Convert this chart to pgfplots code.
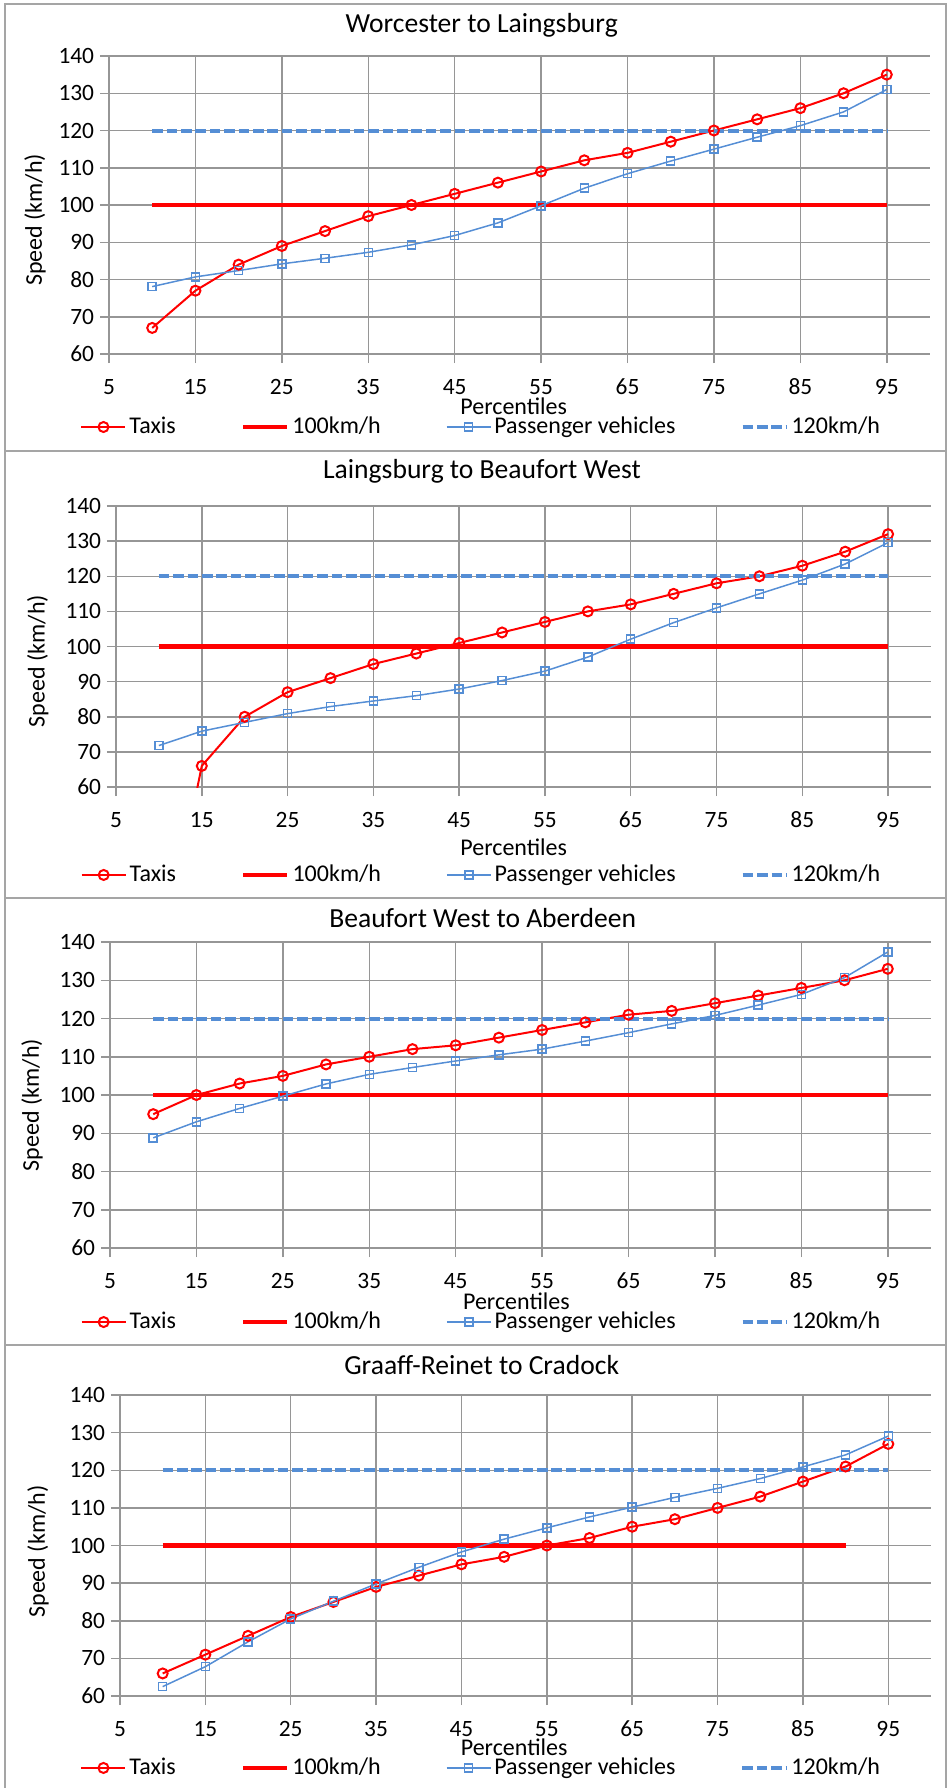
\documentclass[border=0pt]{standalone}
\usepackage{fontspec}
\setmainfont{Carlito}
\usepackage{pgfplots}
\usepackage{pgfplotstable}
\pgfplotsset{compat=1.18}

\definecolor{taxired}{RGB}{255,0,0}
\definecolor{pvblue}{RGB}{85,142,213}
\definecolor{gridgray}{RGB}{150,150,150}
\definecolor{framegray}{RGB}{165,165,165}

% percentile, taxis, passenger vehicles (km/h)
\pgfplotstableread{
p  taxi pv
10 67  78.1
15 77  80.7
20 84  82.4
25 89  84.2
30 93  85.7
35 97  87.3
40 100 89.3
45 103 91.8
50 106 95.2
55 109 99.8
60 112 104.5
65 114 108.4
70 117 111.8
75 120 115.0
80 123 118.2
85 126 121.3
90 130 125.0
95 135 131.0
}\worcester

\pgfplotstableread{
p  taxi pv
10 6   71.8
15 66  75.9
20 80  78.4
25 87  80.9
30 91  82.9
35 95  84.5
40 98  86.0
45 101 87.9
50 104 90.3
55 107 93.0
60 110 97.0
65 112 102.1
70 115 106.8
75 118 111.0
80 120 115.0
85 123 118.9
90 127 123.5
95 132 129.6
}\laingsburg

\pgfplotstableread{
p  taxi pv
10 95  88.8
15 100 93.0
20 103 96.5
25 105 99.7
30 108 102.9
35 110 105.4
40 112 107.2
45 113 108.9
50 115 110.5
55 117 112.0
60 119 114.1
65 121 116.3
70 122 118.6
75 124 120.8
80 126 123.5
85 128 126.3
90 130 130.7
95 133 137.4
}\beaufort

\pgfplotstableread{
p  taxi pv
10 66  62.5
15 71  67.8
20 76  74.4
25 81  80.5
30 85  85.2
35 89  89.8
40 92  94.2
45 95  98.3
50 97  101.7
55 100 104.7
60 102 107.6
65 105 110.2
70 107 112.8
75 110 115.2
80 113 117.8
85 117 120.9
90 121 124.1
95 127 129.1
}\graaff

\pgfplotsset{
  speedpanel/.style={
    scale only axis,
    xmin=5, xmax=100, ymin=60, ymax=140,
    xtick={5,15,...,95}, ytick={60,70,...,140},
    axis x line*=bottom, axis y line*=left,
    axis line style={draw=gridgray, line width=0.75pt},
    grid=major, grid style={draw=gridgray, line width=0.75pt},
    tick align=outside, major tick length=4.5pt,
    tick style={draw=gridgray, line width=0.75pt},
    /pgf/number format/assume math mode=true,
    ticklabel style={font=\fontsize{11.7}{14}\selectfont},
    xticklabel style={anchor=center, inner sep=0pt, yshift=-12pt},
    yticklabel style={anchor=east, inner sep=0pt, xshift=-2.75pt},
    xlabel={Percentiles}, ylabel={Speed (km/h)},
    label style={font=\fontsize{12}{14}\selectfont},
    xlabel style={inner sep=0pt},
    title style={font=\fontsize{13.8}{16}\selectfont},
    legend columns=4,
    legend style={draw=none, fill=none, anchor=center,
      font=\fontsize{12}{14}\selectfont,
      nodes={inner sep=1.5pt},
      /tikz/every even column/.append style={column sep=31pt}},
    legend image code/.code={%
      \draw[mark repeat=2,mark phase=2,##1]
        plot coordinates {(0pt,0pt) (11pt,0pt) (22pt,0pt)};},
  },
  taxis/.style={color=taxired, line width=1pt, mark=o, mark size=2.5pt},
  pv/.style={color=pvblue, line width=0.75pt, mark=square, mark size=2pt},
  lim100/.style={color=taxired, line width=2.25pt, no markers},
  lim120/.style={color=pvblue, line width=2pt, no markers, dash pattern=on 5.3pt off 1.9pt},
}

\begin{document}
\begin{tikzpicture}[x=0.5pt, y=-0.5pt]
\useasboundingbox (0,0) rectangle (949,1788);
% chart area frames
\draw[framegray, line width=0.75pt] (5,1788) -- (5,4) -- (946,4) -- (946,1788);
\draw[framegray, line width=0.75pt] (5,451) -- (946,451);
\draw[framegray, line width=0.75pt] (5,898) -- (946,898);
\draw[framegray, line width=0.75pt] (5,1345) -- (946,1345);

\coordinate (a1) at (109,354);
\coordinate (a2) at (116,787);
\coordinate (a3) at (110,1248);
\coordinate (a4) at (120,1696);

\begin{axis}[speedpanel, at={(a1)}, anchor=south west, width=410.5pt, height=149pt,
  title={Worcester to Laingsburg},
  title style={at={(axis description cs:0.454,1.064)}, anchor=center},
  xlabel style={at={(axis description cs:0.493,-0.174)}, anchor=center},
  ylabel style={at={(axis description cs:-0.090,0.45)}, anchor=center},
  legend style={at={(axis description cs:0.454,-0.245)}}]
\addplot[taxis] table[x=p, y=taxi] {\worcester};
\addlegendentry{Taxis}
\addplot[lim100] coordinates {(10,100) (95,100)};
\addlegendentry{100km/h}
\addplot[pv] table[x=p, y=pv] {\worcester};
\addlegendentry{Passenger vehicles}
\addplot[lim120] coordinates {(10,120) (95,120)};
\addlegendentry{120km/h}
\end{axis}

\begin{axis}[speedpanel, at={(a2)}, anchor=south west, width=407.5pt, height=140.5pt,
  title={Laingsburg to Beaufort West},
  title style={at={(axis description cs:0.449,1.082)}, anchor=center},
  xlabel style={at={(axis description cs:0.488,-0.214)}, anchor=center},
  ylabel style={at={(axis description cs:-0.096,0.448)}, anchor=center},
  legend style={at={(axis description cs:0.449,-0.313)}}]
\addplot[taxis] table[x=p, y=taxi] {\laingsburg};
\addlegendentry{Taxis}
\addplot[lim100] coordinates {(10,100) (95,100)};
\addlegendentry{100km/h}
\addplot[pv] table[x=p, y=pv] {\laingsburg};
\addlegendentry{Passenger vehicles}
\addplot[lim120] coordinates {(10,120) (95,120)};
\addlegendentry{120km/h}
\end{axis}

\begin{axis}[speedpanel, at={(a3)}, anchor=south west, width=410.5pt, height=153pt,
  title={Beaufort West to Aberdeen},
  title style={at={(axis description cs:0.454,1.039)}, anchor=center},
  xlabel style={at={(axis description cs:0.495,-0.173)}, anchor=center},
  ylabel style={at={(axis description cs:-0.095,0.467)}, anchor=center},
  legend style={at={(axis description cs:0.453,-0.242)}}]
\addplot[taxis] table[x=p, y=taxi] {\beaufort};
\addlegendentry{Taxis}
\addplot[lim100] coordinates {(10,100) (95,100)};
\addlegendentry{100km/h}
\addplot[pv] table[x=p, y=pv] {\beaufort};
\addlegendentry{Passenger vehicles}
\addplot[lim120] coordinates {(10,120) (95,120)};
\addlegendentry{120km/h}
\end{axis}

\begin{axis}[speedpanel, at={(a4)}, anchor=south west, width=405.5pt, height=150.5pt,
  title={Graaff-Reinet to Cradock},
  title style={at={(axis description cs:0.446,1.060)}, anchor=center},
  xlabel style={at={(axis description cs:0.486,-0.169)}, anchor=center},
  ylabel style={at={(axis description cs:-0.101,0.48)}, anchor=center},
  legend style={at={(axis description cs:0.446,-0.239)}}]
\addplot[taxis] table[x=p, y=taxi] {\graaff};
\addlegendentry{Taxis}
\addplot[lim100] coordinates {(10,100) (90,100)};
\addlegendentry{100km/h}
\addplot[pv] table[x=p, y=pv] {\graaff};
\addlegendentry{Passenger vehicles}
\addplot[lim120] coordinates {(10,120) (95,120)};
\addlegendentry{120km/h}
\end{axis}
\end{tikzpicture}
\end{document}
